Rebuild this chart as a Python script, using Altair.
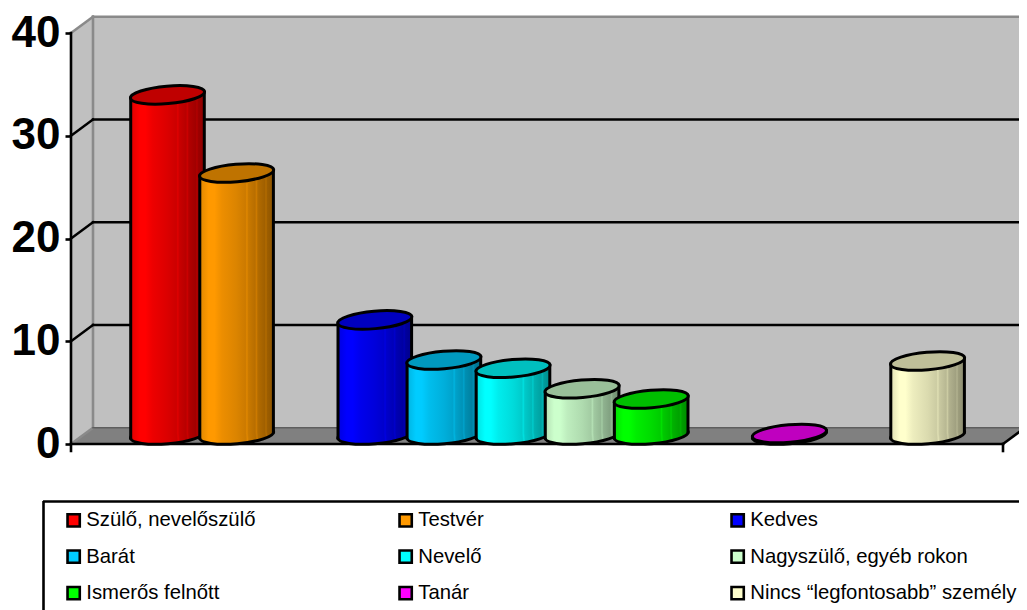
import altair as alt
import pandas as pd

# ---- data ----
categories = ["Szülő, nevelőszülő", "Testvér", "Kedves", "Barát", "Nevelő",
              "Nagyszülő, egyéb rokon", "Ismerős felnőtt", "Tanár",
              "Nincs “legfontosabb” személy"]
values = [33.1, 25.5, 11.2, 7.3, 6.5, 4.5, 3.5, 0.15, 7.2]
slots = [0, 1, 3, 4, 5, 6, 7, 9, 11]
colors = ["#FF0000", "#FF9900", "#0000FF", "#00CCFF", "#00FFFF",
          "#CCFFCC", "#00FF00", "#FF00FF", "#FFFFCC"]
y_ticks = [0, 10, 20, 30, 40]

# ---- scale set-up (chart area = image minus 8 px margin) ----
X0, XS = 167.5, 69.1
YS = 10.275
x_domain = [(8 - X0) / XS, (1019 - X0) / XS]
y_domain = [(444 - 610) / YS, (444 - 8) / YS]
x_scale = alt.Scale(domain=x_domain, nice=False, zero=False)
y_scale = alt.Scale(domain=y_domain, nice=False, zero=False)

# 3-D frame geometry in data units
FL, FR = (71 - X0) / XS, (1003 - X0) / XS
DX, DY = 22 / XS, 16.2 / YS
YTOP = 40
BASE = 9 / YS          # base centre above the front edge
HALF = 36.8 / XS       # cylinder half width
TILT = 3.0 / YS        # rise of the ellipse ends

ELLIPSE = "M-1,0A1,0.235,0,1,1,1,0A1,0.235,0,1,1,-1,0Z"
ELL_SIZE = (2 * 37.2) ** 2
LW = 3


def X(f="x", **kw):
    return alt.X(f"{f}:Q", scale=x_scale, axis=None, **kw)


def Y(f="y", **kw):
    return alt.Y(f"{f}:Q", scale=y_scale, axis=None, **kw)


def shade(c, f):
    r, g, b = (int(c[i:i + 2], 16) for i in (1, 3, 5))
    return "#%02X%02X%02X" % (round(r * f), round(g * f), round(b * f))


def gradient(c):
    stops = [(0, .88), (.12, 1.0), (.2, 1.0), (.3, .93), (.5, .86), (.62, .8),
             (.64, .88), (.66, .79), (.75, .72), (.77, .8), (.79, .7), (.88, .63),
             (.9, .7), (.92, .61), (1, .55)]
    return alt.LinearGradient(
        gradient="linear", x1=0, x2=1, y1=0, y2=0,
        stops=[alt.GradientStop(color=shade(c, f), offset=o) for o, f in stops])


def segs(rows, color, width):
    return alt.Chart(pd.DataFrame(rows, columns=["x", "x2", "y", "y2"])).mark_rule(
        color=color, strokeWidth=width, strokeCap="square").encode(
        x=X(), x2="x2:Q", y=Y(), y2="y2:Q")


WALL = "#C0C0C0"
FLOOR = "#808080"
EDGE = "#8A8A8A"

# real y axis
axis_layer = alt.Chart(pd.DataFrame({"y": y_ticks, "x": [FL] * 5})).mark_point(opacity=0).encode(
    x=X(),
    y=alt.Y("y:Q", scale=y_scale, axis=alt.Axis(
        values=y_ticks, offset=-63, domain=False, grid=False, title=None,
        tickColor="black", tickWidth=2.6, tickSize=6, labelPadding=5, zindex=1,
        labelFont="Liberation Sans", labelFontWeight="bold", labelFontSize=44,
        labelColor="black", labelBaseline="middle", labelFlush=False, labelOverlap=False)))

# back wall
back = alt.Chart(pd.DataFrame({"x": [FL + DX], "x2": [x_domain[1]], "y": [DY], "y2": [YTOP + DY]})).mark_rect(
    color=WALL).encode(x=X(), x2="x2:Q", y=Y(), y2="y2:Q")
# left wall
left = alt.Chart(pd.DataFrame({"x": [FL, FL + DX], "y": [0, DY], "y2": [YTOP, YTOP + DY]})).mark_area(
    color=WALL).encode(x=X(), y=Y(), y2="y2:Q")
# floor
floor = alt.Chart(pd.DataFrame({"y": [0, DY], "x": [FL, FL + DX], "x2": [FR, FR + DX]})).mark_area(
    color=FLOOR, orient="horizontal").encode(y=Y(), x=X(), x2="x2:Q")

gray_edges = segs([
    (FL + DX, FL + DX, DY, YTOP + DY),
    (FL + DX, x_domain[1], YTOP + DY, YTOP + DY),
    (FL, FL + DX, YTOP, YTOP + DY),
    (FL, FL + DX, 0, DY),
], EDGE, 2.6)
floor_back = segs([(FL + DX, FR + DX, DY, DY)], "#5E5E5E", 1.6)
grid = segs(
    [(FL, FL + DX, t, t + DY) for t in y_ticks[1:4]] +
    [(FL + DX, x_domain[1], t + DY, t + DY) for t in y_ticks[1:4]],
    "black", 2.4)
front = segs([
    (FL, FR, 0, 0),
    (FL, FL, -7 / YS, YTOP),
    (FR, FR, -7 / YS, 0),
    (FR, FR + DX, 0, DY),
], "black", 2.6)

# real legend, carried by an invisible layer
legend_layer = alt.Chart(pd.DataFrame({"name": categories, "x": slots, "y": values})).mark_point(
    filled=True, opacity=0, shape="square").encode(
    x=X(), y=Y(),
    color=alt.Color("name:N", scale=alt.Scale(domain=categories, range=colors), sort=categories,
                    legend=alt.Legend(
                        title=None, orient="none", legendX=55.5, legendY=502, columns=3,
                        direction="horizontal",
                        gridAlign="all", symbolType="square", symbolSize=150,
                        symbolStrokeColor="black", symbolStrokeWidth=2.6, symbolOpacity=1,
                        labelFont="Liberation Sans", labelFontSize=20.3, labelColor="black",
                        labelLimit=400, labelOffset=2.5, rowPadding=12.5, columnPadding=41,
                        padding=0)))

box = alt.Chart(pd.DataFrame({"a": [0]})).mark_rule(color="black", strokeWidth=2.6).encode(
    x=alt.value(35), x2=alt.value(1030), y=alt.value(493.5))
box2 = alt.Chart(pd.DataFrame({"a": [0]})).mark_rule(color="black", strokeWidth=2.6).encode(
    x=alt.value(35.5), y=alt.value(493), y2=alt.value(605))

# cylinders
layers = []
for name, v, k, c in zip(categories, values, slots, colors):
    top = v + BASE
    g = gradient(c)
    base = alt.Chart(pd.DataFrame({"x": [k], "y": [BASE]})).mark_point(
        shape=ELLIPSE, size=ELL_SIZE, angle=355, filled=True, fill=g, stroke="black",
        strokeWidth=LW, opacity=1).encode(x=X(), y=Y())
    body = alt.Chart(pd.DataFrame({
        "x": [k - HALF, k + HALF],
        "y": [top - TILT, top + TILT],
        "y2": [BASE - TILT, BASE + TILT]})).mark_area(fill=g, stroke=None, opacity=1).encode(
        x=X(), y=Y(), y2="y2:Q")
    sides = segs([(k - HALF, k - HALF, top - TILT, BASE - TILT),
                  (k + HALF, k + HALF, top + TILT, BASE + TILT)], "black", LW)
    cap = alt.Chart(pd.DataFrame({"x": [k], "y": [top]})).mark_point(
        shape=ELLIPSE, size=ELL_SIZE, angle=355, filled=True, fill=shade(c, .75), stroke="black",
        strokeWidth=LW, opacity=1).encode(x=X(), y=Y())
    layers += [base, body, sides, cap]

chart = alt.layer(
    axis_layer, back, left, floor, gray_edges, floor_back, grid, front, legend_layer,
    *layers, box, box2
).resolve_scale(x="shared", y="shared").resolve_axis(y="independent", x="independent").properties(
    width=1011, height=602, padding=0, autosize=alt.AutoSizeParams(type="none"),
    background="white"
).configure_view(stroke=None)

chart.save("out.html", embed_options={"renderer": "svg", "actions": False})
